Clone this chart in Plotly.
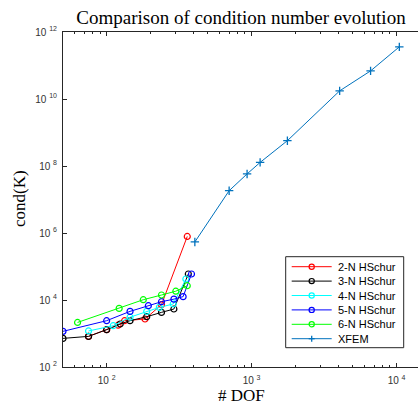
import plotly.graph_objects as go
import numpy as np

# ---------------- data ----------------
series_names = ["2-N HSchur", "3-N HSchur", "4-N HSchur", "5-N HSchur", "6-N HSchur", "XFEM"]

x_2n = [75, 100, 120, 133, 184, 239, 360]
y_2n = [820, 1300, 1770, 2410, 2710, 7240, 7.9e5]

x_3n = [50, 75, 100, 124, 145, 189, 239, 291, 366]
y_3n = [715, 820, 1300, 1920, 2410, 3170, 4270, 5380, 59700]

x_4n = [75, 111, 145, 189, 231, 288, 352]
y_4n = [1190, 1710, 3070, 4570, 6010, 7600, 42400]

x_5n = [50, 100, 145, 194, 239, 291, 337, 385]
y_5n = [1160, 2410, 4570, 6760, 8890, 10600, 12600, 59700]

x_6n = [63, 122, 179, 239, 300, 360]
y_6n = [2140, 5610, 10200, 14100, 18300, 26700]

x_xfem = [406, 700, 931, 1145, 1766, 4050, 6620, 10450]
y_xfem = [5.4e5, 1.83e7, 5.8e7, 1.28e8, 5.7e8, 1.75e10, 6.9e10, 3.6e11]

x_tick_vals = [100, 1000, 10000]
x_tick_text = ["10 <sup>2</sup>", "10 <sup>3</sup>", "10 <sup>4</sup>"]
y_tick_vals = [1e2, 1e4, 1e6, 1e8, 1e10, 1e12]
y_tick_text = ["10 <sup>2</sup>", "10 <sup>4</sup>", "10 <sup>6</sup>",
               "10 <sup>8</sup>", "10 <sup>10</sup>", "10 <sup>12</sup>"]

# ---------------- style ----------------
colors = ["#FF0000", "#000000", "#00FFFF", "#0000FF", "#00FF00", "#0072BD"]
xs = [x_2n, x_3n, x_4n, x_5n, x_6n, x_xfem]
ys = [y_2n, y_3n, y_4n, y_5n, y_6n, y_xfem]

W_FIG, H_FIG = 418, 405
L, T, PW, PH = 63, 32, 355, 335
B = H_FIG - T - PH
R = W_FIG - L - PW

axis_col = "#262626"
tick_font = dict(family="Liberation Sans, Arial, sans-serif", size=10, color="#333333")
serif = "Liberation Serif, Times New Roman, serif"

fig = go.Figure()
for i, name in enumerate(series_names):
    is_x = name == "XFEM"
    fig.add_trace(go.Scatter(
        x=xs[i], y=ys[i], name=name, mode="lines+markers",
        line=dict(color=colors[i], width=1),
        marker=dict(symbol="cross-thin-open" if is_x else "circle-open",
                    size=6,
                    color=colors[i],
                    line=dict(color=colors[i], width=1.3 if is_x else 1.2)),
        showlegend=False,
    ))

def px2x(px):
    return (px - L) / PW

def py2y(py):
    return (T + PH - py) / PH

shapes = []
annotations = []

# legend box
shapes.append(dict(type="rect", xref="paper", yref="paper",
                   x0=px2x(285.7), x1=px2x(403.7), y0=py2y(347.7), y1=py2y(256.7),
                   line=dict(color="#262626", width=1), fillcolor="white", layer="above"))
for i, name in enumerate(series_names):
    yy = py2y(266.7 + 14.4 * i)
    shapes.append(dict(type="line", xref="paper", yref="paper",
                       x0=px2x(291.7), x1=px2x(331.7), y0=yy, y1=yy,
                       line=dict(color=colors[i], width=1), layer="above"))
    if name == "XFEM":
        shapes.append(dict(type="line", xref="paper", yref="paper",
                           xsizemode="pixel", ysizemode="pixel",
                           xanchor=px2x(311.7), yanchor=yy,
                           x0=-3, x1=3, y0=0, y1=0,
                           line=dict(color=colors[i], width=1.3), layer="above"))
        shapes.append(dict(type="line", xref="paper", yref="paper",
                           xsizemode="pixel", ysizemode="pixel",
                           xanchor=px2x(311.7), yanchor=yy,
                           x0=0, x1=0, y0=-3, y1=3,
                           line=dict(color=colors[i], width=1.3), layer="above"))
    else:
        shapes.append(dict(type="circle", xref="paper", yref="paper",
                           xsizemode="pixel", ysizemode="pixel",
                           xanchor=px2x(311.7), yanchor=yy,
                           x0=-2.6, x1=2.6, y0=-2.6, y1=2.6,
                           line=dict(color=colors[i], width=1.2), layer="above"))
    annotations.append(dict(xref="paper", yref="paper", x=px2x(336), y=yy,
                            xanchor="left", yanchor="middle", showarrow=False,
                            text=name,
                            font=dict(family="Liberation Sans, Arial, sans-serif",
                                      size=11, color="black")))

# axis titles
annotations.append(dict(xref="paper", yref="paper", x=px2x(241), y=py2y(395),
                        xanchor="center", yanchor="middle", showarrow=False,
                        text="# DOF", font=dict(family=serif, size=17, color="black")))
annotations.append(dict(xref="paper", yref="paper", x=px2x(19), y=py2y(199),
                        xanchor="center", yanchor="middle", showarrow=False,
                        textangle=-90,
                        text="cond(K)", font=dict(family=serif, size=17, color="black")))

fig.update_layout(
    width=W_FIG, height=H_FIG,
    margin=dict(l=L, r=R, t=T, b=B, pad=0),
    paper_bgcolor="white", plot_bgcolor="white",
    title=dict(text="Comparison of condition number evolution",
               x=241 / W_FIG, xanchor="center", xref="container",
               y=1 - 17 / H_FIG, yanchor="middle", yref="container",
               font=dict(family=serif, size=19, color="black")),
    shapes=shapes, annotations=annotations,
    showlegend=False,
)

fig.update_xaxes(
    type="log", range=[np.log10(50), 4.148],
    showline=True, linecolor=axis_col, linewidth=1, mirror="ticks",
    showgrid=False, zeroline=False,
    ticks="inside", ticklen=4, tickwidth=1, tickcolor=axis_col,
    tickmode="array", tickvals=x_tick_vals, ticktext=x_tick_text,
    tickfont=tick_font, ticklabelstandoff=4,
    minor=dict(ticks="inside", ticklen=2, tickwidth=1, tickcolor=axis_col,
               dtick="D1", showgrid=False),
)
fig.update_yaxes(
    type="log", range=[2, 12],
    showline=True, linecolor=axis_col, linewidth=1, mirror=False,
    showgrid=False, zeroline=False,
    ticks="inside", ticklen=4, tickwidth=1, tickcolor=axis_col,
    tickmode="array", tickvals=y_tick_vals, ticktext=y_tick_text,
    tickfont=tick_font, ticklabelstandoff=3,
)

fig.write_html(
    "out.html",
    config={"displayModeBar": False},
    post_script="document.body.style.margin='0';document.body.style.overflow='hidden';",
)
